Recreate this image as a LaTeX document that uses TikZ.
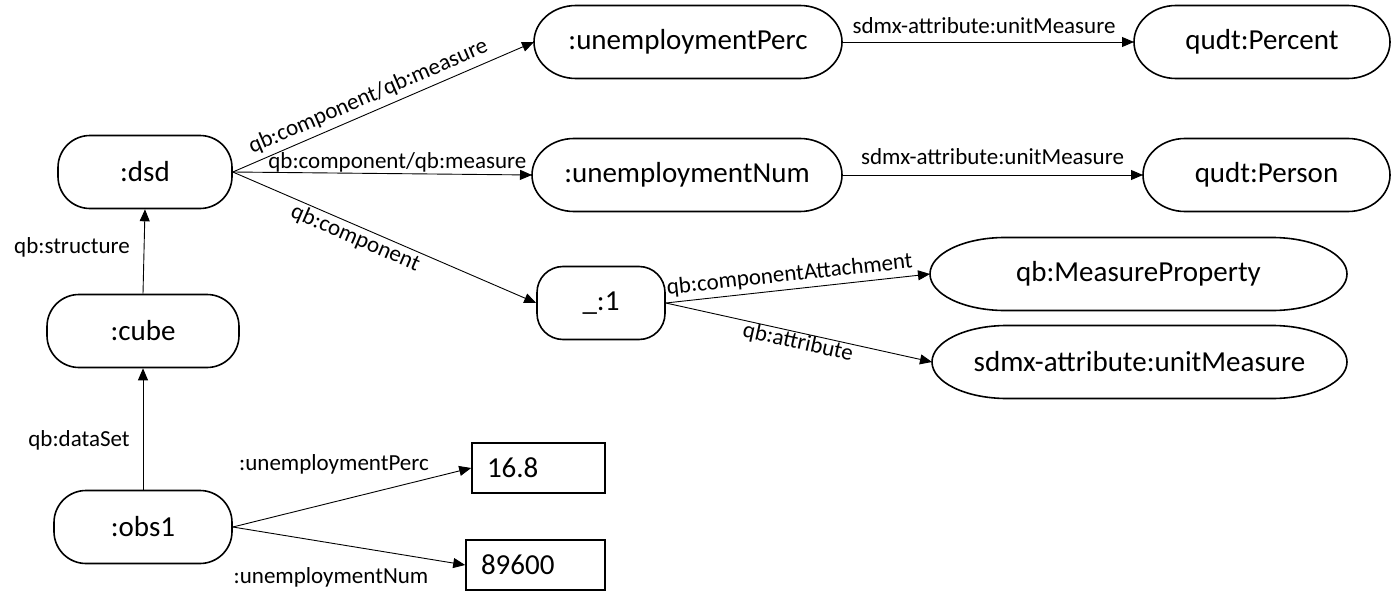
\documentclass[tikz,border=0pt]{standalone}
\usepackage{fontspec}
\setmainfont{Carlito}
\usetikzlibrary{arrows.meta}
\newcommand\ovaloutline[2]{\draw[line width=1.6pt, line join=round] ([xshift=#2]#1.north west) -- ([xshift=-#2]#1.north east) arc[start angle=90,end angle=-90,x radius=#2,y radius=36.5pt] -- ([xshift=#2]#1.south west) arc[start angle=270,end angle=90,x radius=#2,y radius=36.5pt] -- cycle;}
\begin{document}
\begin{tikzpicture}[x=1pt,y=-1pt,
  res/.style={draw, line width=1.6pt, rounded corners=32pt, minimum height=73pt, inner sep=0pt, font=\fontsize{29}{33}\selectfont},
  oval/.style={res, draw=none, outer sep=0pt},
  lit/.style={draw, line width=1.6pt, minimum height=50pt, inner xsep=15pt, inner ysep=0pt, align=left, font=\fontsize{29}{33}\selectfont},
  arr/.style={line width=0.9pt, -{Triangle[length=12pt,width=10pt]}},
  lab/.style={font=\fontsize{23}{26}\selectfont, inner sep=2pt}]
\useasboundingbox (0,0) rectangle (1393,605);
\node[res, minimum width=174pt] (dsd) at (145,172) {:dsd};
\node[res, minimum width=192pt] (cube) at (143,331) {:cube};
\node[res, minimum width=178pt] (obs) at (143,527) {:obs1};
\node[lit, text width=103pt] (v1) at (538.5,468) {16.8};
\node[lit, text width=109pt] (v2) at (535.5,565) {89600};
\node[oval, minimum width=308pt] (uP) at (688,42) {:unemploymentPerc};
\node[oval, minimum width=256pt] (pct) at (1262,42) {qudt:Percent};
\node[oval, minimum width=310pt] (uN) at (687,175) {:unemploymentNum};
\node[oval, minimum width=247pt] (per) at (1266.5,175) {qudt:Person};
\node[res, minimum width=128pt, rounded corners=26pt] (b1) at (601,303) {\_:1};
\node[oval, minimum width=417pt] (mp) at (1138.5,274) {qb:MeasureProperty};
\node[oval, minimum width=415pt] (um) at (1139.5,362) {sdmx-attribute:unitMeasure};
\ovaloutline{uP}{42pt}
\ovaloutline{pct}{42pt}
\ovaloutline{uN}{42pt}
\ovaloutline{per}{42pt}
\ovaloutline{mp}{75pt}
\ovaloutline{um}{75pt}

\draw[arr] (cube.north) -- (dsd.south);
\node[lab] (lstr) at (72,247) {qb:structure};
\draw[arr] (obs.north) -- (cube.south);
\node[lab] (lds) at (79,440) {qb:dataSet};

\draw[arr] (dsd.east) -- node[lab, sloped, above, pos=0.47, yshift=3pt] {qb:component/qb:measure} (uP.west);
\draw[arr] (dsd.east) -- node[lab, above, pos=0.55, yshift=-1pt] {qb:component/qb:measure} (uN.west);
\draw[arr] (dsd.east) -- node[lab, sloped, below, pos=0.42] {qb:component} (b1.west);

\draw[arr] (uP.east) -- node[lab, above, pos=0.5, xshift=-4pt, yshift=6pt] {sdmx-attribute:unitMeasure} (pct.west);
\draw[arr] (uN.east) -- node[lab, above, pos=0.5, yshift=8pt] {sdmx-attribute:unitMeasure} (per.west);

\draw[arr] (b1.east) -- node[lab, sloped, above, pos=0.475, yshift=2pt] {qb:componentAttachment} (mp.west);
\draw[arr] (b1.east) -- node[lab, sloped, below, pos=0.505, yshift=2pt] {qb:attribute} (um.west);

\draw[arr] (obs.east) -- (v1.west);
\node[lab] (l1) at (334,464) {:unemploymentPerc};
\draw[arr] (obs.east) -- (v2.west);
\node[lab] (l2) at (331,577) {:unemploymentNum};
\end{tikzpicture}
\end{document}
